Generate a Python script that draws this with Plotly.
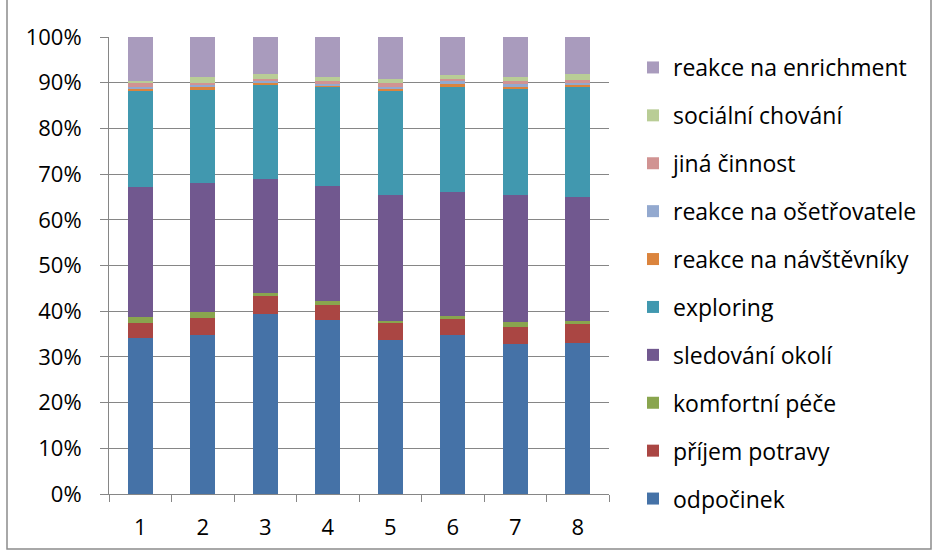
import plotly.graph_objects as go

categories = ["1", "2", "3", "4", "5", "6", "7", "8"]

odpocinek = [34.0, 34.8, 39.3, 38.0, 33.7, 34.9, 32.8, 33.1]
prijem_potravy = [3.4, 3.7, 4.0, 3.4, 3.7, 3.4, 3.8, 4.0]
komfortni_pece = [1.3, 1.4, 0.6, 0.8, 0.5, 0.7, 1.1, 0.8]
sledovani_okoli = [28.5, 28.1, 25.0, 25.2, 27.6, 27.1, 27.8, 27.0]
exploring = [21.1, 20.5, 20.5, 21.7, 22.7, 23.0, 23.2, 24.2]
reakce_navstevniky = [0.3, 0.6, 0.6, 0.3, 0.6, 0.7, 0.4, 0.6]
reakce_osetrovatele = [0.4, 0.5, 0.4, 0.4, 0.3, 0.6, 0.7, 0.3]
jina_cinnost = [0.8, 0.3, 0.4, 0.6, 0.9, 0.4, 0.5, 0.5]
socialni_chovani = [0.5, 1.4, 1.0, 0.9, 0.8, 0.8, 1.0, 1.3]
reakce_enrichment = [9.6, 8.7, 8.2, 8.7, 9.2, 8.4, 8.7, 8.2]

series = [
    ("odpočinek", odpocinek, "#4572A7"),
    ("příjem potravy", prijem_potravy, "#AA4643"),
    ("komfortní péče", komfortni_pece, "#89A54E"),
    ("sledování okolí", sledovani_okoli, "#71588F"),
    ("exploring", exploring, "#4198AF"),
    ("reakce na návštěvníky", reakce_navstevniky, "#DB843D"),
    ("reakce na ošetřovatele", reakce_osetrovatele, "#93A9CF"),
    ("jiná činnost", jina_cinnost, "#D19392"),
    ("sociální chování", socialni_chovani, "#B9CD96"),
    ("reakce na enrichment", reakce_enrichment, "#A99BBD"),
]

fig = go.Figure()
n = len(series)
for i, (name, vals, color) in enumerate(series):
    # last stacked series is listed first in the legend
    fig.add_trace(go.Bar(
        x=categories, y=vals, name=name, legendgroup=name,
        legendrank=n - i,
        marker=dict(color=color, line=dict(width=0)),
    ))

FONT = "'Open Sans', Lato, sans-serif"
W, H = 938, 556
L, R, T, B = 109, 329, 37, 62
pw, ph = W - L - R, H - T - B


def px_x(v):
    return (v - L) / pw


def px_y(v):
    return (H - B - v) / ph


fig.update_layout(
    width=W, height=H,
    margin=dict(l=L, r=R, t=T, b=B),
    paper_bgcolor="white", plot_bgcolor="white",
    barmode="stack", barnorm="percent", bargap=0.595,
    font=dict(family=FONT, size=22, color="#000000"),
    showlegend=True,
    legend=dict(
        x=px_x(633), y=px_y(46), xanchor="left", yanchor="top",
        traceorder="grouped", tracegroupgap=15, maxheight=600,
        font=dict(family=FONT, size=23, color="#000000"),
        bgcolor="rgba(0,0,0,0)",
    ),
    xaxis=dict(
        showgrid=False, showline=True, linecolor="#868686", linewidth=1,
        ticks="outside", tickson="boundaries", ticklen=7, tickcolor="#868686",
        ticklabelstandoff=14,
    ),
    yaxis=dict(
        range=[0, 100], tickvals=[0, 10, 20, 30, 40, 50, 60, 70, 80, 90, 100],
        ticktext=[f"{v}%" for v in range(0, 101, 10)],
        showgrid=True, gridcolor="#868686", gridwidth=1,
        showline=True, linecolor="#868686", linewidth=1,
        ticks="outside", ticklen=8, tickcolor="#868686",
        ticklabelstandoff=14, zeroline=False,
    ),
    shapes=[dict(
        type="rect", xref="paper", yref="paper",
        x0=px_x(7), x1=px_x(931), y0=px_y(549), y1=px_y(-3),
        line=dict(color="#8C8C8C", width=1.5), fillcolor="rgba(0,0,0,0)",
        layer="below",
    )],
)

fig.write_html("out.html")
